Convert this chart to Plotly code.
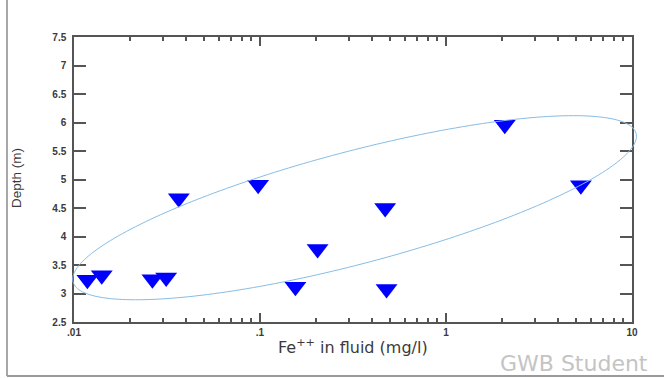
import numpy as np
import plotly.graph_objects as go

# Fe++ concentration (mg/l) and sample depth (m)
fe_mg_l = [0.0118, 0.0141, 0.0264, 0.0313, 0.0366, 0.0977,
           0.155, 0.204, 0.471, 0.479, 2.07, 5.31]
depth_m = [3.24, 3.32, 3.25, 3.28, 4.67, 4.91,
           3.12, 3.78, 4.50, 3.08, 5.96, 4.90]

x_tick_vals = [0.01, 0.1, 1, 10]
x_tick_text = [".01", ".1", "1", "10"]
y_tick_vals = [2.5, 3, 3.5, 4, 4.5, 5, 5.5, 6, 6.5, 7, 7.5]
y_tick_text = ["2.5", "3", "3.5", "4", "4.5", "5", "5.5", "6", "6.5", "7", "7.5"]

X_RANGE_LOG = (-2, 1)
Y_RANGE = (2.5, 7.5)

# Trend ellipse drawn around the samples (log10 x, depth)
ELLIPSE_CENTER = (-0.4915, 4.505)
ELLIPSE_HALF_X = 1.5155
ELLIPSE_HALF_Y = 1.615
ELLIPSE_RHO = 0.776

AXIS_COLOR = "#555555"
TEXT_COLOR = "#3a3a3a"

fig = go.Figure()

fig.add_trace(go.Scatter(
    x=fe_mg_l, y=depth_m, mode="markers",
    marker=dict(symbol="triangle-down", size=19, color="#0000ff",
                line=dict(width=0)),
    cliponaxis=False, showlegend=False, hoverinfo="x+y",
))

# ellipse outline in paper coordinates so it can run past the frame edge
t = np.linspace(0, 2 * np.pi, 241)
eu = ELLIPSE_CENTER[0] + ELLIPSE_HALF_X * np.cos(t)
ey = ELLIPSE_CENTER[1] + ELLIPSE_HALF_Y * (
    ELLIPSE_RHO * np.cos(t) + np.sqrt(1 - ELLIPSE_RHO ** 2) * np.sin(t))
px = (eu - X_RANGE_LOG[0]) / (X_RANGE_LOG[1] - X_RANGE_LOG[0])
py = (ey - Y_RANGE[0]) / (Y_RANGE[1] - Y_RANGE[0])
path = "M " + " L ".join(f"{a:.5f},{b:.5f}" for a, b in zip(px, py)) + " Z"
fig.add_shape(type="path", path=path, xref="paper", yref="paper",
              line=dict(color="#86bde6", width=1), layer="above")

minor_vals = [k * 10.0 ** e for e in (-2, -1, 0) for k in range(2, 10)]

fig.update_xaxes(
    type="log", range=list(X_RANGE_LOG),
    tickmode="array", tickvals=x_tick_vals, ticktext=x_tick_text,
    ticks="inside", ticklen=9, tickwidth=1.5, tickcolor=AXIS_COLOR,
    minor=dict(tickmode="array", tickvals=minor_vals, ticks="inside",
               ticklen=4, tickwidth=1.5, tickcolor=AXIS_COLOR, showgrid=False),
    showline=True, linecolor=AXIS_COLOR, linewidth=1.5, mirror="ticks",
    showgrid=False, zeroline=False,
    tickfont=dict(family="Liberation Sans", size=10, color=TEXT_COLOR, weight="bold"),
)
fig.update_yaxes(
    range=list(Y_RANGE),
    tickmode="array", tickvals=y_tick_vals, ticktext=y_tick_text,
    ticks="inside", ticklen=12, tickwidth=1.5, tickcolor=AXIS_COLOR,
    showline=True, linecolor=AXIS_COLOR, linewidth=1.5, mirror="ticks",
    showgrid=False, zeroline=False, ticklabelstandoff=4,
    tickfont=dict(family="Liberation Sans", size=10, color=TEXT_COLOR, weight="bold"),
)

# outer frame lines (left and bottom edges of the window)
fig.add_shape(type="line", xref="paper", yref="paper",
              x0=(7 - 74) / 558, x1=(7 - 74) / 558, y0=(378 - 56) / 285, y1=-(376 - 322) / 285,
              line=dict(color="#8a8a8a", width=1.5))
fig.add_shape(type="line", xref="paper", yref="paper",
              x0=(7 - 74) / 558, x1=(664 - 74) / 558, y0=-(376 - 322) / 285, y1=-(376 - 322) / 285,
              line=dict(color="#9a9a9a", width=2))

fig.add_annotation(text="Fe<sup>++</sup> in fluid (mg/l)", xref="paper", yref="paper",
                   x=0.5, y=-(346 - 322) / 285, xanchor="center", yanchor="middle",
                   showarrow=False,
                   font=dict(family="DejaVu Sans", size=16, color=TEXT_COLOR))
fig.add_annotation(text="Depth (m)", xref="paper", yref="paper",
                   x=(16 - 74) / 558, y=(322 - 178) / 285, xanchor="center", yanchor="middle",
                   textangle=-90, showarrow=False,
                   font=dict(family="Liberation Sans", size=13.5, color=TEXT_COLOR))
fig.add_annotation(text="GWB Student", xref="paper", yref="paper",
                   x=(574 - 74) / 558, y=-(363 - 322) / 285, xanchor="center", yanchor="middle",
                   showarrow=False,
                   font=dict(family="DejaVu Sans", size=22, color="#c4c4c4"))

fig.update_layout(
    width=664, height=378,
    margin=dict(l=74, r=32, t=37, b=56, autoexpand=False),
    paper_bgcolor="white", plot_bgcolor="white",
    showlegend=False,
)

fig.write_html("out.html")
